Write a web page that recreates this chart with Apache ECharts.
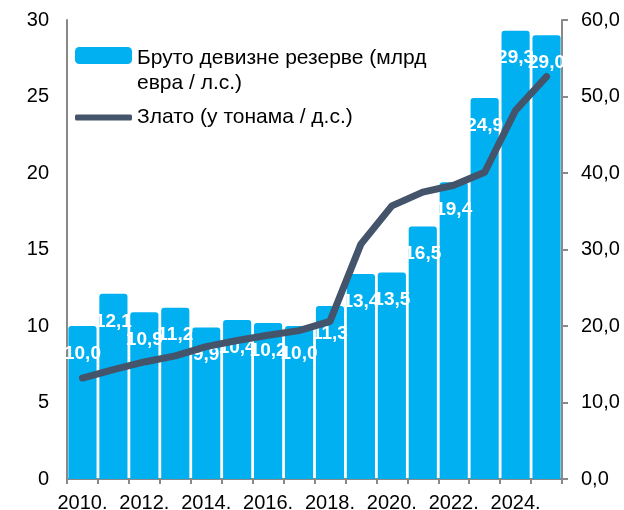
<!DOCTYPE html>
<html>
<head>
<meta charset="utf-8">
<script src="https://cdn.jsdelivr.net/npm/echarts@6/dist/echarts.min.js"></script>
<style>
  html, body { margin: 0; padding: 0; background: #fff; }
  #chart { width: 624px; height: 510px; }
</style>
</head>
<body>
<div id="chart"></div>
<script>
// godine
const years = ['2010.', '2011.', '2012.', '2013.', '2014.', '2015.', '2016.', '2017.',
  '2018.', '2019.', '2020.', '2021.', '2022.', '2023.', '2024.', '2025.'];
// bruto devizne rezerve, mlrd evra (leva osa)
const reserves = [10.0, 12.1, 10.9, 11.2, 9.9, 10.4, 10.2, 10.0,
  11.3, 13.4, 13.5, 16.5, 19.4, 24.9, 29.3, 29.0];
// zlato u tonama (desna osa)
const gold = [13.2, 14.3, 15.3, 16.1, 17.3, 18.1, 18.8, 19.4,
  20.6, 30.7, 35.7, 37.5, 38.4, 40.1, 48.2, 52.6];

const barName = 'Бруто девизне резерве (млрд евра / л.с.)';
const lineName = 'Злато (у тонама / д.с.)';

const font = '"Liberation Sans", Arial, sans-serif';
const axisColor = '#898989';

const chart = echarts.init(document.getElementById('chart'));

const option = {
  animation: false,
  textStyle: { fontFamily: font },
  grid: { left: 67, right: 62, top: 20, bottom: 31, outerBoundsMode: 'none' },
  legend: [
    {
      data: [barName],
      orient: 'vertical',
      left: 75,
      top: 20,
      padding: 0,
      itemWidth: 57,
      itemHeight: 17,
      icon: 'roundRect',
      // prazan prvi red da bi prvi red teksta stao pored ikone
      formatter: (n) => '{s| }\n{t|' + n.replace(' евра', '}\n{t|евра') + '}',
      textStyle: {
        fontSize: 21, color: '#000', fontFamily: font,
        rich: {
          s: { fontSize: 21, lineHeight: 30, fontFamily: font },
          t: { fontSize: 21, lineHeight: 25, color: '#000', fontFamily: font }
        }
      }
    },
    {
      data: [lineName],
      orient: 'vertical',
      left: 75,
      top: 107,
      padding: 0,
      itemWidth: 57,
      itemHeight: 6,
      icon: 'roundRect',
      textStyle: { fontSize: 21, color: '#000', fontFamily: font }
    }
  ],
  xAxis: {
    type: 'category',
    data: years,
    axisLine: { lineStyle: { color: axisColor, width: 2 } },
    axisTick: { show: true, interval: 0, length: 5, lineStyle: { color: axisColor, width: 2 } },
    axisLabel: {
      interval: 1,
      margin: 14,
      fontSize: 20,
      color: '#000',
      fontFamily: font
    }
  },
  yAxis: [
    {
      type: 'value',
      min: 0,
      max: 30,
      interval: 5,
      splitLine: { show: false },
      axisLine: { show: true, lineStyle: { color: axisColor, width: 2 } },
      axisTick: { show: false },
      axisLabel: { margin: 18, fontSize: 20, color: '#000', fontFamily: font }
    },
    {
      type: 'value',
      min: 0,
      max: 60,
      interval: 10,
      position: 'right',
      splitLine: { show: false },
      axisLine: { show: true, lineStyle: { color: axisColor, width: 2 } },
      axisTick: { show: true, length: 6, lineStyle: { color: axisColor, width: 2 } },
      axisLabel: {
        margin: 19,
        fontSize: 20,
        color: '#000',
        fontFamily: font,
        formatter: (v) => v.toFixed(1).replace('.', ',')
      }
    }
  ],
  series: [
    {
      name: barName,
      type: 'bar',
      data: reserves,
      yAxisIndex: 0,
      barCategoryGap: '9%',
      itemStyle: { color: '#00B0F0', borderRadius: [3, 3, 0, 0] },
      label: {
        show: true,
        position: 'insideTop',
        offset: [0, 13],
        color: '#fff',
        fontWeight: 'bold',
        fontSize: 19,
        fontFamily: font,
        formatter: (p) => p.value.toFixed(1).replace('.', ',')
      },
      z: 2
    },
    {
      name: lineName,
      type: 'line',
      data: gold,
      yAxisIndex: 1,
      symbol: 'none',
      lineStyle: { color: '#44546A', width: 7, cap: 'round', join: 'round' },
      itemStyle: { color: '#44546A' },
      z: 3
    }
  ]
};

chart.setOption(option);
</script>
</body>
</html>
